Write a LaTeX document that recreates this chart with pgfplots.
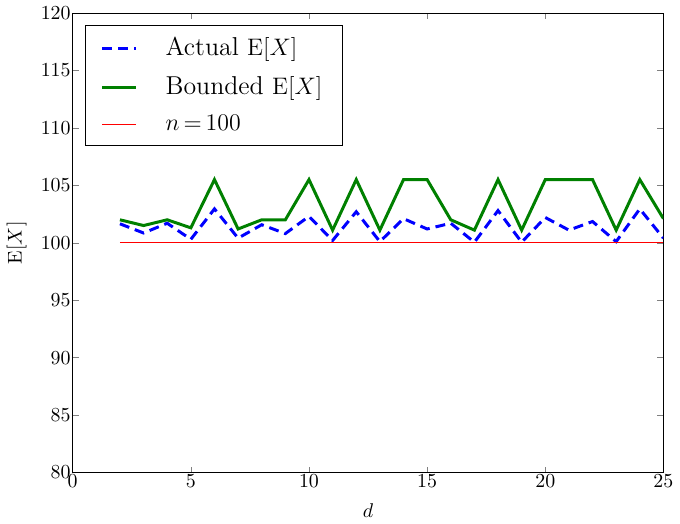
\documentclass[border=0pt]{standalone}
\usepackage{pgfplots}
\pgfplotsset{compat=1.18}
\begin{document}
\begin{tikzpicture}
\begin{axis}[
    scale only axis,
    width=297pt, height=231pt,
    xmin=0, xmax=25, ymin=80, ymax=120,
    xtick={0,5,...,25}, ytick={80,85,...,120},
    tick align=inside,
    major tick length=3pt,
    xticklabel style={yshift=2.5pt},
    yticklabel style={xshift=2.5pt},
    xlabel={$d$}, ylabel={$\mathrm{E}[X]$},
    every axis x label/.style={at={(axis description cs:0.5,-0.082)}, anchor=center},
    every axis y label/.style={at={(axis description cs:-0.095,0.5)}, rotate=90, anchor=center},
    legend style={at={(0.02,0.974)}, anchor=north west,
        font=\fontsize{13}{15}\selectfont,
        draw=black, row sep=5pt, column sep=12pt,
        inner xsep=8pt, inner ysep=4pt},
    legend cell align=left,
    legend image code/.code={\draw[#1] (0cm,0cm) -- (0.6cm,0cm);},
]
\addplot[blue, line width=1.5pt, dash pattern=on 5pt off 3pt] coordinates {
(2,101.65) (3,100.85) (4,101.7) (5,100.3) (6,102.95) (7,100.4) (8,101.57)
(9,100.8) (10,102.3) (11,100.2) (12,102.7) (13,100.1) (14,102.1) (15,101.2)
(16,101.7) (17,100.05) (18,102.8) (19,100.05) (20,102.2) (21,101.1)
(22,101.85) (23,100.1) (24,102.95) (25,100.4)};
\addlegendentry{Actual $\mathrm{E}[X]$}
\addplot[color={rgb,255:red,0;green,128;blue,0}, line width=1.5pt] coordinates {
(2,102.0) (3,101.5) (4,102.0) (5,101.3) (6,105.5) (7,101.2) (8,102.0)
(9,102.0) (10,105.5) (11,101.1) (12,105.5) (13,101.1) (14,105.5) (15,105.5)
(16,102.0) (17,101.1) (18,105.5) (19,101.1) (20,105.5) (21,105.5)
(22,105.5) (23,101.1) (24,105.5) (25,102.1)};
\addlegendentry{Bounded $\mathrm{E}[X]$}
\addplot[red, line width=0.7pt] coordinates {(2,100) (25,100)};
\addlegendentry{$n\,{=}\,100$}
\end{axis}
\end{tikzpicture}
\end{document}
